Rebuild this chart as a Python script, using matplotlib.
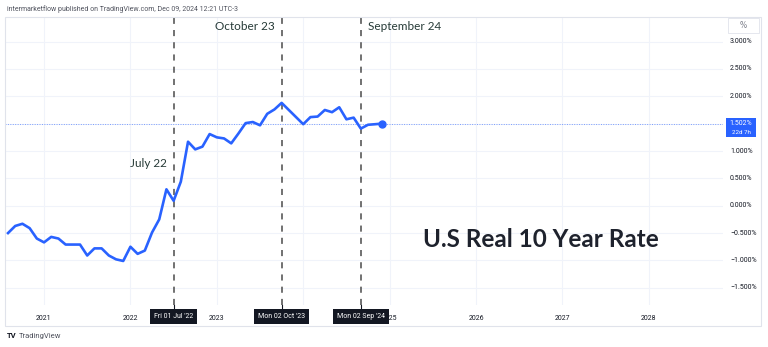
import matplotlib.pyplot as plt
import matplotlib.transforms as mtransforms
from matplotlib.patches import Rectangle
import pandas as pd

W, H = 768, 347

# US real 10-year rate, monthly closes (%)
months = pd.period_range('2020-08', '2024-12', freq='M')
real_rate = [
    -0.50, -0.37, -0.33, -0.41, -0.60,                                          # 2020
    -0.67, -0.57, -0.60, -0.71, -0.71, -0.71, -0.91, -0.78, -0.78, -0.91, -0.98, -1.01,  # 2021
    -0.75, -0.88, -0.82, -0.49, -0.25, 0.30, 0.09, 0.44, 1.17, 1.03, 1.08, 1.31,         # 2022
    1.25, 1.23, 1.14, 1.32, 1.51, 1.53, 1.47, 1.68, 1.76, 1.88, 1.75, 1.62,              # 2023
    1.49, 1.62, 1.63, 1.75, 1.71, 1.80, 1.58, 1.61, 1.41, 1.48, 1.49, 1.502,             # 2024
]
last_label = ['1.502%', '22d 7h']

year_ticks = [2021, 2022, 2023, 2024, 2025, 2026, 2027, 2028]
year_labels = ['2021', '2022', '2023', '', '2025', '2026', '2027', '2028']  # 2024 sits under a date box
price_ticks = [3.0, 2.5, 2.0, 1.5, 1.0, 0.5, 0.0, -0.5, -1.0, -1.5]

event_months = ['2022-07', '2023-10', '2024-09']
event_dates = ["Fri 01 Jul '22", "Mon 02 Oct '23", "Mon 02 Sep '24"]
event_notes = ['July 22', 'October 23', 'September 24']

title = 'U.S Real 10 Year Rate'
header = 'intermarketflow published on TradingView.com, Dec 09, 2024 12:21 UTC-3'

BLUE = '#2962ff'
GRID = '#f0f3fa'
AXIS_TXT = '#131722'
NOTE_TXT = '#263a37'


def month_pos(p):
    # bar index counted from Jan 2021, one bar per month
    p = pd.Period(p, freq='M')
    return (p.year - 2021) * 12 + p.month - 1


def fx(px):
    return px / W


def fy(py):
    return 1 - py / H


x = [month_pos(m) for m in months]

fig = plt.figure(figsize=(W / 100, H / 100), dpi=100)
fig.patch.set_facecolor('white')

# plot pane
left, right, top, bottom = 5, 723, 17, 305
ax = fig.add_axes([fx(left), fy(bottom), (right - left) / W, (bottom - top) / H])
ax.set_xlim(-5.42, 94.3)
ax.set_ylim(-1.815, 3.45)
for s in ax.spines.values():
    s.set_visible(False)
ax.set_xticks([month_pos(f'{y}-01') for y in year_ticks])
ax.set_yticks(price_ticks)
ax.tick_params(length=0, labelbottom=False, labelleft=False)
ax.grid(True, color=GRID, lw=0.8)
ax.set_axisbelow(True)

# last value guide line
ax.axhline(real_rate[-1], color=BLUE, lw=0.7, ls=(0, (1, 1.5)), alpha=0.6, zorder=1)

ax.plot(x, real_rate, color=BLUE, lw=1.9, solid_joinstyle='round', zorder=3)
ax.plot(x[-1], real_rate[-1], 'o', color=BLUE, ms=5, zorder=4)

# event lines
for m in event_months:
    ax.axvline(month_pos(m), color='#4a4a4a', lw=1.1, ls=(0, (4, 4)), zorder=2)

note_font = dict(family=['Lato', 'DejaVu Sans'], fontsize=8.5, color=NOTE_TXT)
ax.text(month_pos(event_months[0]) - 1, 0.78, event_notes[0], ha='right', va='center', **note_font)
ax.text(month_pos(event_months[1]) - 1, 3.27, event_notes[1], ha='right', va='center', **note_font)
ax.text(month_pos(event_months[2]) + 1, 3.27, event_notes[2], ha='left', va='center', **note_font)

ax.text(month_pos('2026-10'), -0.62, title, ha='center', va='center',
        family=['Lato', 'DejaVu Sans'], fontweight='bold', fontsize=17.5, color='#1e222d')

# price scale
ytr = mtransforms.blended_transform_factory(fig.transFigure, ax.transData)
for v in price_ticks:
    if v == 1.5:
        continue
    ax.text(fx(730), v, f'{v:.3f}%'.replace('-', '\u2212'), transform=ytr,
            ha='left', va='center', fontsize=5, family='Roboto', color=AXIS_TXT, clip_on=False)

# last value badge
fig.add_artist(Rectangle((fx(726), fy(137)), 30 / W, 19 / H, transform=fig.transFigure,
                         facecolor=BLUE, edgecolor='none'))
fig.text(fx(741), real_rate[-1], last_label[0], transform=ytr, ha='center', va='center',
         fontsize=5, family='Roboto', color='white')
fig.text(fx(741), fy(132), last_label[1], ha='center', va='center',
         fontsize=4.5, family='Roboto', color='white')

# unit box
fig.add_artist(Rectangle((fx(728), fy(33)), 31 / W, 15 / H, transform=fig.transFigure,
                         facecolor='white', edgecolor='#e0e3eb', lw=0.6))
fig.text(fx(743), fy(25.5), '%', ha='center', va='center', fontsize=5.5, color='#787b86')

# time scale
xtr = mtransforms.blended_transform_factory(ax.transData, fig.transFigure)
for y, lab in zip(year_ticks, year_labels):
    ax.text(month_pos(f'{y}-01'), fy(318), lab, transform=xtr, ha='center', va='center',
            fontsize=5, family='Roboto', color=AXIS_TXT, clip_on=False)

for m, lab in zip(event_months, event_dates):
    xm = month_pos(m)
    ax.plot([xm, xm], [fy(305), fy(309)], transform=xtr, color=AXIS_TXT, lw=0.8, clip_on=False)
    ax.text(xm, fy(316.5), lab, transform=xtr, ha='center', va='center',
            fontsize=5, family='Roboto', color='white', clip_on=False, zorder=6,
            bbox=dict(boxstyle='square,pad=0.55', facecolor=AXIS_TXT, edgecolor='none'))

# outer frame
fig.add_artist(Rectangle((fx(5), fy(326)), 756 / W, 309 / H, transform=fig.transFigure,
                         facecolor='none', edgecolor='#e0e3eb', lw=0.8))

fig.text(fx(7), fy(9), header, ha='left', va='center', fontsize=5, family='Roboto', color='#50535e')
fig.text(fx(7), fy(336), 'TV', ha='left', va='center', fontsize=5.5, fontweight='bold',
         family='Roboto', color=AXIS_TXT)
fig.text(fx(19), fy(336), 'TradingView', ha='left', va='center', fontsize=5.5,
         family='Roboto', color='#50535e')

fig.savefig('out.png', dpi=100, facecolor='white')
